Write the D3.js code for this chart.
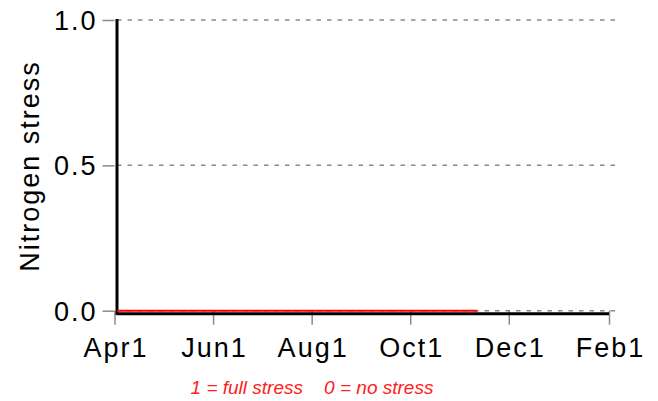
<!DOCTYPE html>
<html>
<head>
<meta charset="utf-8">
<script src="https://cdn.jsdelivr.net/npm/d3@7/dist/d3.min.js"></script>
<style>
  body { margin: 0; background: #fff; }
  text { font-family: Arial, "Liberation Sans", sans-serif; }
</style>
</head>
<body>
<div id="chart"></div>
<script>
// tick labels
const monthTicks = ["2000-04-01", "2000-06-01", "2000-08-01", "2000-10-01", "2000-12-01", "2001-02-01"];
const monthLabels = ["Apr1", "Jun1", "Aug1", "Oct1", "Dec1", "Feb1"];
const stressTicks = [0, 0.5, 1];
const stressTickLabels = ["0.0", "0.5", "1.0"];

// nitrogen stress series (red line)
const stressDates = ["2000-04-01", "2000-05-01", "2000-06-01", "2000-07-01", "2000-08-01", "2000-09-01", "2000-10-01", "2000-11-10"];
const stressValues = [0, 0, 0, 0, 0, 0, 0, 0];

const parseDate = d3.timeParse("%Y-%m-%d");

const width = 658, height = 401;
const svg = d3.select("#chart").append("svg")
    .attr("width", width)
    .attr("height", height);

// scales
const x = d3.scaleTime()
    .domain([parseDate("2000-04-01"), parseDate("2001-02-01")])
    .range([114.5, 609]);
const y = d3.scaleLinear()
    .domain([0, 1])
    .range([310.7, 20]);

// dashed grid lines
svg.append("g")
    .selectAll("line")
    .data(stressTicks)
    .enter().append("line")
    .attr("x1", x.range()[0] + 2.5)
    .attr("x2", 615)
    .attr("y1", d => y(d))
    .attr("y2", d => y(d))
    .attr("stroke", "#8a8a8a")
    .attr("stroke-width", 1.5)
    .attr("stroke-dasharray", "4.5,6");

// y axis (gray ticks only)
const yAxis = svg.append("g")
    .attr("transform", "translate(" + x.range()[0] + ",0)")
    .call(d3.axisLeft(y).tickValues(stressTicks).tickSize(12).tickFormat(""));
yAxis.select(".domain").remove();
yAxis.selectAll(".tick line").attr("stroke", "#8a8a8a").attr("stroke-width", 1.5);

yAxis.selectAll(".tick").append("text")
    .attr("x", -17)
    .attr("y", 9.6)
    .attr("text-anchor", "end")
    .attr("fill", "#000")
    .style("font-size", "27px")
    .style("letter-spacing", "2px")
    .text((d, i) => stressTickLabels[i]);

// x axis (gray ticks only)
const xAxis = svg.append("g")
    .attr("transform", "translate(0," + y(0) + ")")
    .call(d3.axisBottom(x).tickValues(monthTicks.map(parseDate)).tickSize(14).tickFormat(""));
xAxis.select(".domain").remove();
xAxis.selectAll(".tick line").attr("stroke", "#8a8a8a").attr("stroke-width", 1.5);

xAxis.selectAll(".tick").append("text")
    .attr("x", 1)
    .attr("y", 46.5)
    .attr("text-anchor", "middle")
    .attr("fill", "#000")
    .style("font-size", "27px")
    .style("letter-spacing", "2px")
    .text((d, i) => monthLabels[i]);

// black frame lines
svg.append("line")
    .attr("x1", x.range()[0] + 2.5).attr("x2", x.range()[0] + 2.5)
    .attr("y1", y(1) - 1).attr("y2", y(0) + 4.3)
    .attr("stroke", "#000").attr("stroke-width", 3);
svg.append("line")
    .attr("x1", x.range()[0] + 2.5).attr("x2", x.range()[1])
    .attr("y1", y(0) + 3).attr("y2", y(0) + 3)
    .attr("stroke", "#000").attr("stroke-width", 3);

// nitrogen stress line
const line = d3.line()
    .x((d, i) => x(parseDate(stressDates[i])) + 2.5)
    .y(d => y(d));
svg.append("path")
    .datum(stressValues)
    .attr("fill", "none")
    .attr("stroke", "#ff0000")
    .attr("stroke-width", 2)
    .attr("d", line);

// y axis title
svg.append("text")
    .attr("transform", "translate(39,166) rotate(-90)")
    .attr("text-anchor", "middle")
    .attr("fill", "#000")
    .style("font-size", "27px")
    .style("letter-spacing", "2px")
    .text("Nitrogen stress");

// footnote
svg.append("text")
    .attr("x", 312)
    .attr("y", 394)
    .attr("text-anchor", "middle")
    .attr("fill", "#ff2020")
    .style("font-size", "19px")
    .style("font-style", "italic")
    .style("white-space", "pre")
    .text("1 = full stress    0 = no stress");
</script>
</body>
</html>
